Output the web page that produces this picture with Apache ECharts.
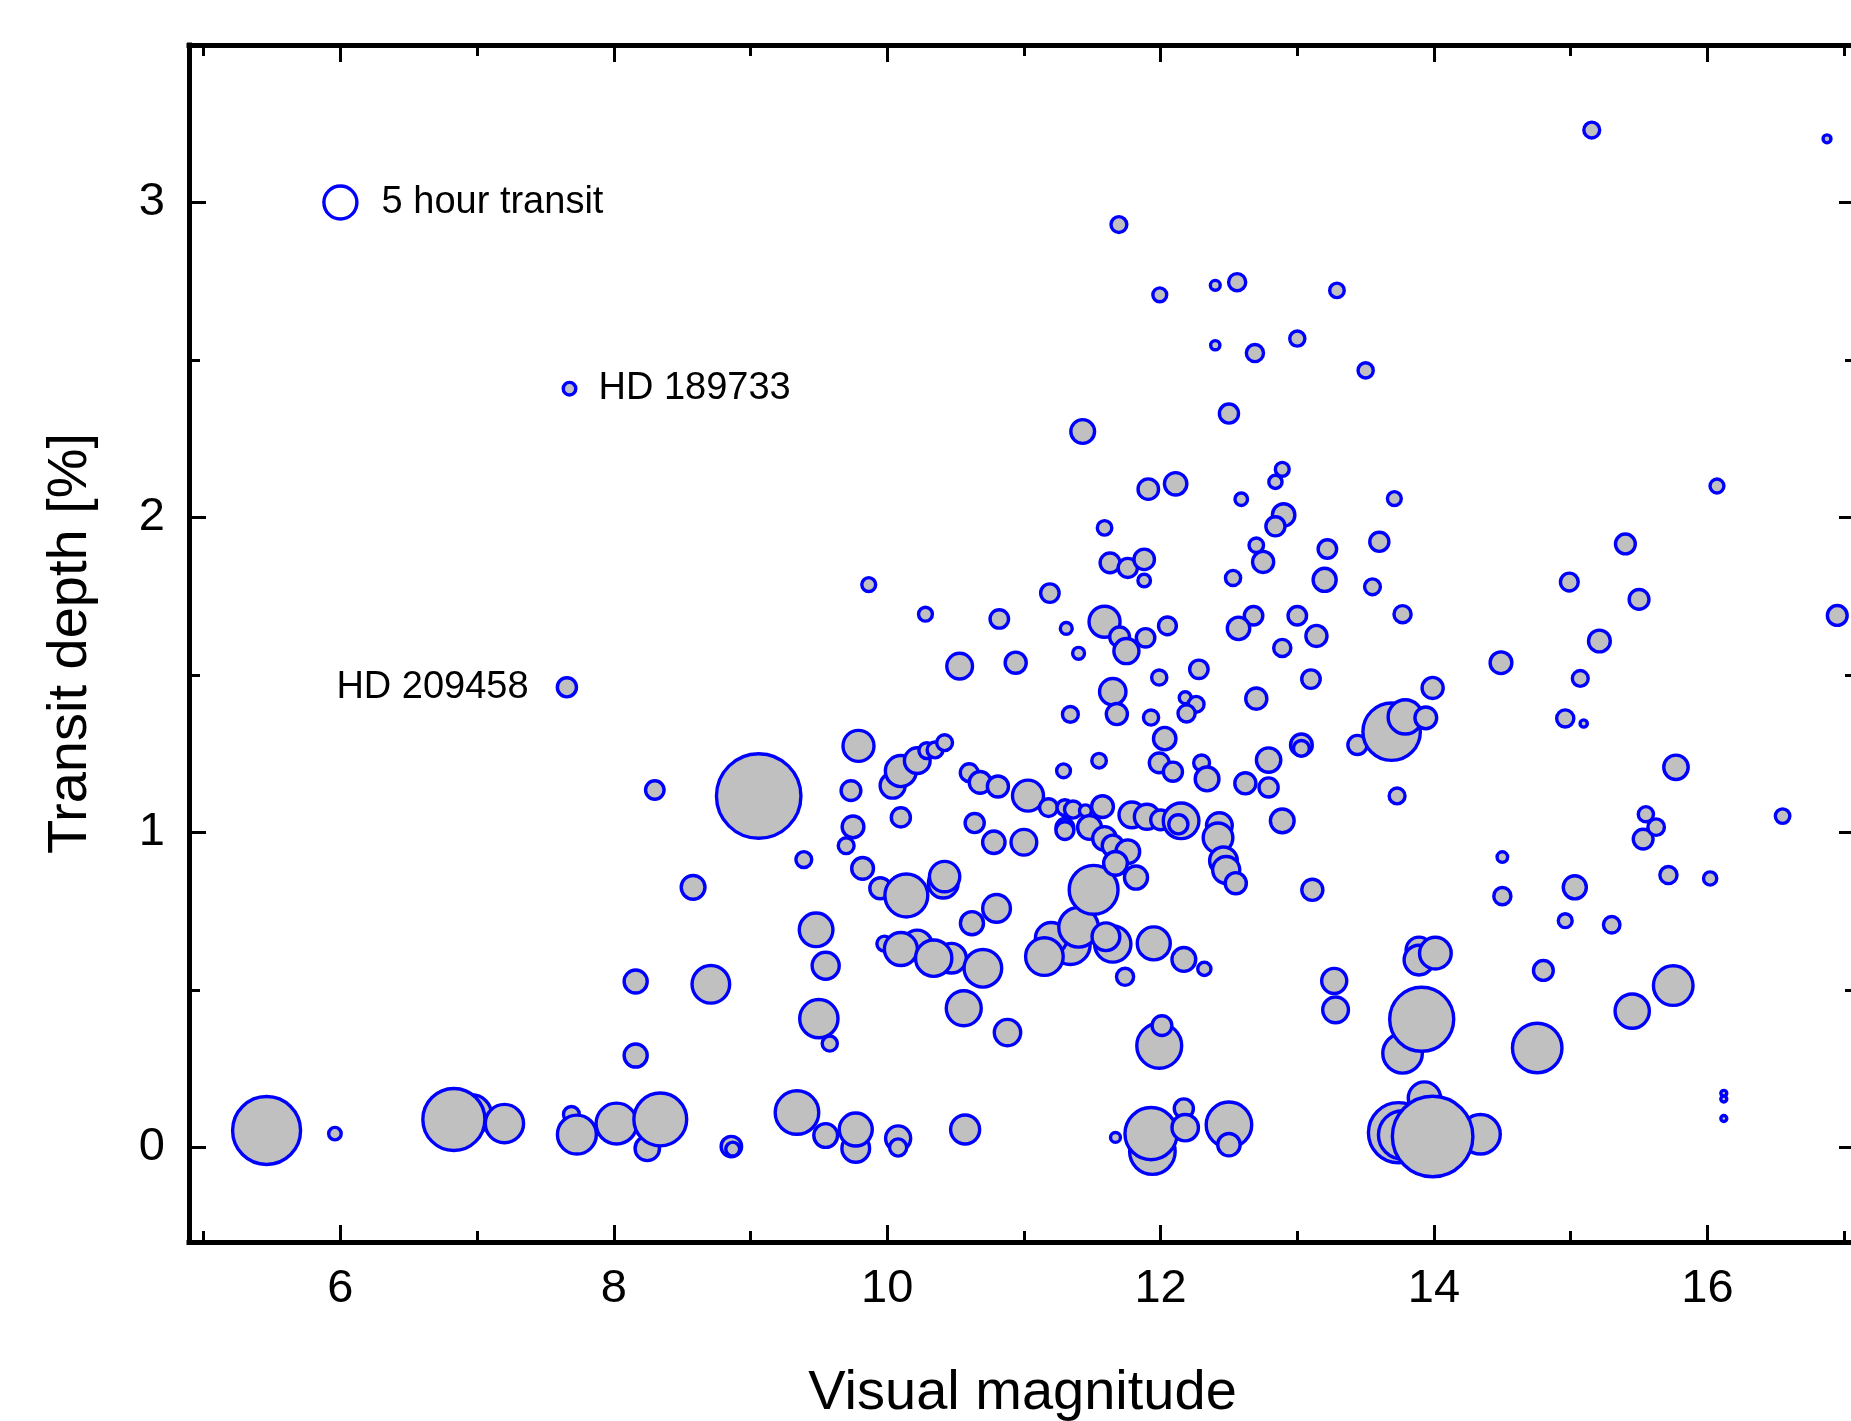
<!DOCTYPE html>
<html>
<head>
<meta charset="utf-8">
<script src="https://cdn.jsdelivr.net/npm/echarts@6/dist/echarts.min.js"></script>
<style>
  html, body { margin: 0; padding: 0; background: #fff; }
  #chart { width: 1851px; height: 1421px; }
</style>
</head>
<body>
<div id="chart"></div>
<script>
// visual magnitude of the host star, 10 per line
const mag = [
  5.46, 5.96, 6.96, 6.83, 7.20, 7.69, 7.73, 8.02, 8.245, 8.34,
  8.16, 8.16, 8.71, 8.86, 8.87, 9.34, 9.55, 9.77, 9.77, 10.08,
  10.08, 10.57, 11.67, 11.94, 11.93, 12.17, 12.18, 12.50, 12.50, 13.93,
  13.74, 13.77, 14.34, 13.99, 16.12, 16.12, 16.12, 9.50, 9.58, 9.55,
  9.48, 10.56, 10.88, 11.74, 11.99, 12.01, 9.98, 10.22, 10.10, 10.47,
  10.34, 10.70, 10.62, 10.80, 11.34, 11.20, 11.15, 11.40, 11.65, 11.60,
  11.95, 12.17, 12.32, 11.51, 8.58, 9.39, 9.70, 9.75, 9.82, 9.95,
  10.14, 10.41, 10.42, 9.735, 9.79, 10.10, 10.04, 10.10, 10.22, 10.29,
  10.35, 10.42, 9.06, 8.30, 10.60, 10.68, 10.81, 11.03, 11.18, 11.30,
  11.36, 11.45, 11.575, 11.30, 11.30, 11.48, 11.59, 11.65, 11.76, 11.67,
  11.82, 10.64, 10.78, 11.00, 11.79, 11.90, 12.00, 12.15, 12.13, 12.43,
  12.42, 12.46, 12.48, 12.55, 12.89, 13.11, 13.27, 13.28, 13.89, 13.89,
  14.01, 13.77, 13.91, 14.755, 14.80, 14.50, 14.50, 14.96, 15.03, 15.30,
  15.75, 15.45, 15.715, 16.02, 15.53, 15.625, 15.55, 16.55, 15.77, 15.095,
  14.96, 15.07, 15.21, 14.49, 14.99, 15.40, 15.50, 16.95, 16.07, 15.154,
  16.875, 11.695, 11.994, 12.40, 12.56, 13.29, 12.40, 12.69, 13.00, 13.50,
  12.50, 11.43, 12.89, 12.84, 12.11, 11.91, 12.59, 13.71, 12.90, 12.84,
  11.59, 12.70, 12.75, 13.22, 13.60, 11.63, 11.76, 11.88, 11.88, 12.53,
  13.20, 13.55, 11.59, 11.70, 11.75, 11.89, 12.05, 11.31, 12.68, 12.57,
  13.00, 13.14, 13.77, 12.89, 11.99, 12.28, 13.10, 13.99, 11.65, 11.68,
  11.34, 11.93, 12.03, 12.18, 12.26, 12.19, 12.70, 11.55, 11.29, 11.99,
  12.09, 12.30, 12.34, 12.62, 12.79, 12.79, 13.03, 13.03, 13.44, 13.69,
  13.79, 13.94, 13.73, 9.865, 10.28, 10.82, 11.19, 10.94, 10.53, 11.40
];

// transit depth in percent
const depth = [
  0.054, 0.044, 0.105, 0.089, 0.076, 0.105, 0.041, 0.076, -0.003, 0.089,
  0.292, 0.527, 0.518, 0.003, -0.005, 0.111, 0.038, -0.003, 0.057, 0.029,
  0.000, 0.057, 0.032, -0.013, 0.044, 0.124, 0.063, 0.072, 0.009, 0.157,
  0.047, 0.040, 0.042, 0.035, 0.172, 0.154, 0.092, 0.409, 0.330, 0.577,
  0.691, 0.442, 0.365, 0.542, 0.323, 0.387, 0.647, 0.643, 0.630, 0.601,
  0.601, 0.569, 0.712, 0.759, 0.644, 0.664, 0.606, 0.699, 0.646, 0.669,
  0.648, 0.597, 0.567, 0.818, 0.826, 0.914, 0.958, 1.018, 0.886, 0.823,
  0.800, 0.839, 0.860, 1.133, 1.275, 1.048, 1.149, 1.195, 1.228, 1.260,
  1.262, 1.285, 1.116, 1.135, 1.190, 1.159, 1.146, 1.117, 1.079, 1.079,
  1.073, 1.069, 1.082, 1.016, 1.006, 1.016, 0.981, 0.958, 0.939, 0.902,
  0.857, 1.030, 0.969, 0.969, 1.056, 1.050, 1.040, 1.037, 1.026, 1.022,
  0.983, 0.910, 0.881, 0.839, 1.037, 0.818, 0.529, 0.437, 0.627, 0.595,
  0.617, 0.299, 0.407, 0.316, 0.562, 0.922, 0.798, 0.720, 0.826, 0.707,
  0.514, 0.433, 0.865, 0.854, 0.979, 1.017, 1.058, 1.052, 1.207, 1.346,
  1.362, 1.489, 1.608, 1.539, 1.795, 1.916, 1.740, 1.689, 2.100, 3.230,
  3.202, 2.930, 2.707, 2.737, 2.747, 2.721, 2.547, 2.522, 2.568, 2.467,
  2.330, 2.273, 2.153, 2.113, 2.107, 2.090, 2.058, 2.060, 2.008, 1.972,
  1.967, 1.912, 1.859, 1.900, 1.923, 1.856, 1.840, 1.867, 1.800, 1.808,
  1.802, 1.780, 1.669, 1.621, 1.576, 1.618, 1.656, 1.648, 1.688, 1.648,
  1.688, 1.624, 1.693, 1.586, 1.492, 1.518, 1.487, 1.459, 1.447, 1.376,
  1.375, 1.365, 1.298, 1.428, 1.407, 1.378, 1.425, 1.228, 1.196, 1.221,
  1.193, 1.221, 1.170, 1.156, 1.143, 1.230, 1.278, 1.267, 1.278, 1.320,
  1.367, 1.364, 1.116, 1.787, 1.693, 1.678, 1.760, 1.539, 1.528, 1.569
];

// transit duration in hours (sets the circle size)
const duration = [
  10.3, 1.9, 6.0, 9.4, 5.8, 2.4, 5.9, 6.2, 3.7, 8.0,
  3.5, 3.5, 5.7, 3.1, 2.1, 6.6, 3.6, 4.2, 5.0, 3.8,
  2.6, 4.4, 1.5, 6.9, 7.9, 2.9, 4.0, 6.9, 3.4, 4.9,
  9.1, 7.3, 6.0, 12.2, 0.9, 0.9, 0.9, 5.8, 2.3, 4.1,
  5.1, 5.3, 4.0, 2.6, 6.8, 3.0, 2.3, 4.5, 5.0, 4.5,
  5.5, 5.7, 3.5, 4.2, 6.0, 4.8, 5.7, 6.0, 5.5, 4.2,
  5.0, 3.6, 2.0, 7.4, 3.6, 2.4, 2.4, 3.3, 3.3, 3.2,
  6.5, 4.5, 4.6, 3.0, 4.7, 2.9, 3.8, 4.7, 3.9, 2.4,
  2.4, 2.4, 12.8, 2.8, 2.7, 3.3, 3.2, 4.7, 2.7, 2.4,
  2.6, 1.8, 3.3, 2.7, 2.7, 3.6, 3.6, 3.2, 3.6, 3.6,
  3.5, 2.9, 3.4, 3.9, 3.9, 3.8, 3.0, 5.4, 2.9, 3.9,
  4.5, 4.2, 4.1, 3.2, 3.6, 3.2, 3.8, 3.9, 3.9, 4.5,
  4.8, 6.0, 9.7, 7.5, 3.0, 1.6, 2.6, 2.1, 3.5, 2.5,
  6.0, 5.2, 2.6, 2.0, 3.0, 2.5, 2.3, 2.2, 3.7, 1.1,
  2.6, 2.4, 3.3, 3.3, 2.7, 3.0, 3.0, 3.0, 2.1, 2.4,
  1.2, 2.4, 2.1, 1.5, 2.6, 2.2, 1.4, 2.6, 2.3, 2.3,
  2.9, 3.6, 2.1, 2.0, 3.4, 3.1, 1.9, 2.1, 3.4, 2.9,
  2.2, 2.2, 3.2, 2.8, 2.9, 3.0, 2.9, 3.1, 1.9, 2.3,
  3.5, 2.4, 4.7, 3.0, 3.8, 2.8, 2.7, 1.8, 2.8, 3.4,
  2.8, 3.2, 2.6, 2.6, 2.3, 2.8, 2.8, 3.2, 4.0, 3.2,
  2.4, 2.3, 3.4, 1.8, 2.4, 2.6, 3.2, 2.2, 2.1, 3.0,
  2.9, 2.4, 3.6, 3.2, 2.9, 3.7, 3.3, 2.4, 2.9, 8.7,
  5.2, 3.3, 2.4, 2.1, 2.1, 2.8, 2.8, 3.2, 3.9, 1.8
];

// the two labelled systems
const noteNames = ['HD 189733', 'HD 209458'];
const noteMag = [7.676, 7.657];
const noteDepth = [2.409, 1.461];
const noteDuration = [1.9, 2.9];

// size key
const keyMag = 6;
const keyDepth = 3;
const keyHours = 5;

const xTicksMajor = [6, 8, 10, 12, 14, 16];
const xTicksMinor = [5, 7, 9, 11, 13, 15, 17];
const yTicksMajor = [0, 1, 2, 3];
const yTicksMinor = [0.5, 1.5, 2.5];

// the frame runs a few px past the right edge of the picture
const X_MIN = 4.8925, X_MAX = 17.087;
const Y_MIN = -0.3, Y_MAX = 3.5;
const PX_PER_HOUR = 6.6; // circle diameter per hour of transit
const FONT = 'Liberation Sans, Arial, sans-serif';
const BLUE = '#0000ff';

let myChart = echarts.init(document.getElementById('chart'));

function axisLayer(dim, position, ticks, tickLen, withLine, labels) {
  return {
    type: 'value',
    position: position,
    min: dim === 'x' ? X_MIN : Y_MIN,
    max: dim === 'x' ? X_MAX : Y_MAX,
    axisLine: { show: withLine, onZero: false, lineStyle: { color: '#000', width: 5, cap: 'square' } },
    axisTick: { show: true, inside: true, length: tickLen, customValues: ticks, lineStyle: { color: '#000', width: 3 } },
    axisLabel: { show: !!labels, customValues: labels || [], margin: 24, fontSize: 47, color: '#000', fontFamily: FONT },
    splitLine: { show: false },
    minorTick: { show: false }
  };
}

const xMain = axisLayer('x', 'bottom', xTicksMajor, 17, true, xTicksMajor);
xMain.name = 'Visual magnitude';
xMain.nameLocation = 'middle';
xMain.nameGap = 124;
xMain.nameTextStyle = { fontSize: 56, color: '#000', fontFamily: FONT };

const yMain = axisLayer('y', 'left', yTicksMajor, 17, true, yTicksMajor);
yMain.name = 'Transit depth [%]';
yMain.nameLocation = 'middle';
yMain.nameGap = 90;
yMain.nameTextStyle = { fontSize: 56, color: '#000', fontFamily: FONT };

const points = mag.map((m, i) => [m, depth[i], duration[i]]);
const notes = noteNames.map((name, i) => ({
  name: name,
  value: [noteMag[i], noteDepth[i], noteDuration[i]],
  label: name === 'HD 209458' ? { position: 'left', distance: 27 } : { position: 'right', distance: 21 }
}));

const bubbleStyle = { color: '#c0c0c0', borderColor: BLUE, borderWidth: 3.4, opacity: 1 };
const textStyle = { show: true, fontSize: 38, color: '#000', fontFamily: FONT };

const option = {
  animation: false,
  backgroundColor: '#fff',
  grid: { left: 189, top: 45, width: 1667, height: 1197, containLabel: false, outerBoundsMode: 'none' },
  xAxis: [
    xMain,
    axisLayer('x', 'bottom', xTicksMinor, 11, false),
    axisLayer('x', 'top', xTicksMajor, 17, true),
    axisLayer('x', 'top', xTicksMinor, 11, false)
  ],
  yAxis: [
    yMain,
    axisLayer('y', 'left', yTicksMinor, 11, false),
    axisLayer('y', 'right', yTicksMajor, 17, true),
    axisLayer('y', 'right', yTicksMinor, 11, false)
  ],
  series: [
    {
      type: 'scatter',
      xAxisIndex: 0,
      yAxisIndex: 0,
      symbol: 'circle',
      symbolSize: (v) => v[2] * PX_PER_HOUR,
      itemStyle: bubbleStyle,
      emphasis: { disabled: true },
      data: points
    },
    {
      type: 'scatter',
      xAxisIndex: 0,
      yAxisIndex: 0,
      symbolSize: (v) => v[2] * PX_PER_HOUR,
      itemStyle: bubbleStyle,
      emphasis: { disabled: true },
      label: Object.assign({ formatter: '{b}' }, textStyle),
      data: notes,
      z: 3
    },
    {
      type: 'scatter',
      xAxisIndex: 0,
      yAxisIndex: 0,
      symbolSize: (v) => v[2] * PX_PER_HOUR,
      itemStyle: { color: 'rgba(0,0,0,0)', borderColor: BLUE, borderWidth: 3.4, opacity: 1 },
      emphasis: { disabled: true },
      label: Object.assign({ position: 'right', distance: 23, formatter: keyHours + ' hour transit' }, textStyle),
      data: [[keyMag, keyDepth, keyHours]],
      z: 3
    }
  ]
};

myChart.setOption(option);
</script>
</body>
</html>
